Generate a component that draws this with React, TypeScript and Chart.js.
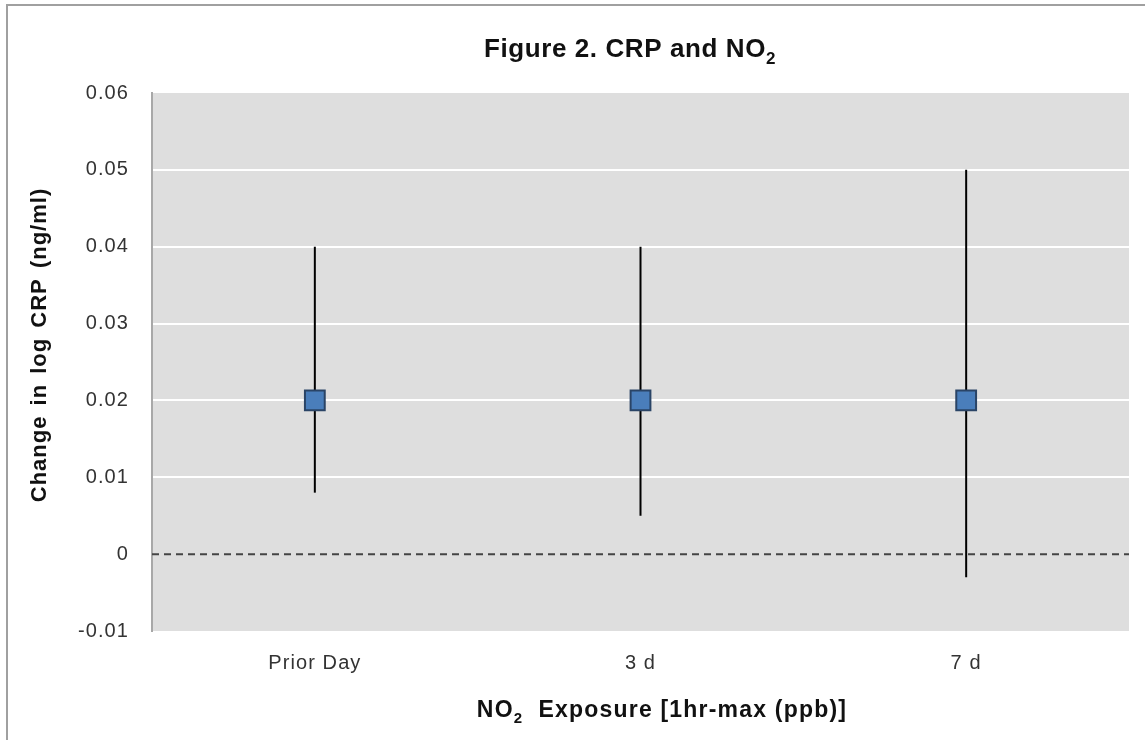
import React, { useEffect, useRef } from "react";
import { Chart, registerables } from "chart.js";

Chart.register(...registerables);

const categories = ["Prior Day", "3 d", "7 d"];
const estimates = [0.02, 0.02, 0.02];
const lowerCI = [0.008, 0.005, -0.003];
const upperCI = [0.04, 0.04, 0.05];
const yTicks = [0.06, 0.05, 0.04, 0.03, 0.02, 0.01, 0, -0.01];

const FONT = "'Liberation Sans', Arial, sans-serif";

function drawSubText(
  ctx: CanvasRenderingContext2D,
  parts: { t: string; sub?: boolean }[],
  cx: number,
  cy: number,
  size: number,
  spacing: number
) {
  ctx.letterSpacing = `${spacing}px`;
  const measure = (p: { t: string; sub?: boolean }) => {
    ctx.font = `bold ${p.sub ? Math.round(size * 0.65) : size}px ${FONT}`;
    return ctx.measureText(p.t).width;
  };
  const total = parts.reduce((s, p) => s + measure(p), 0);
  let x = cx - total / 2;
  ctx.textAlign = "left";
  ctx.textBaseline = "middle";
  for (const p of parts) {
    const w = measure(p);
    ctx.fillText(p.t, x, p.sub ? cy + size * 0.35 : cy);
    x += w;
  }
}

const decorPlugin = {
  id: "decor",
  beforeDraw(chart: any) {
    const { ctx, chartArea } = chart;
    ctx.save();
    ctx.fillStyle = "#dedede";
    ctx.fillRect(chartArea.left, chartArea.top, chartArea.right - chartArea.left, chartArea.bottom - chartArea.top);
    ctx.restore();
    ctx.letterSpacing = "1.1px";
  },
  beforeDatasetsDraw(chart: any) {
    const { ctx, chartArea, scales } = chart;
    const y0 = scales.y.getPixelForValue(0);
    ctx.save();
    ctx.strokeStyle = "#444444";
    ctx.lineWidth = 2;
    ctx.setLineDash([7, 5]);
    ctx.beginPath();
    ctx.moveTo(chartArea.left, y0);
    ctx.lineTo(chartArea.right, y0);
    ctx.stroke();
    ctx.setLineDash([]);
    ctx.strokeStyle = "#000000";
    ctx.lineWidth = 2;
    categories.forEach((c, i) => {
      const x = scales.x.getPixelForValue(i);
      ctx.beginPath();
      ctx.moveTo(x, scales.y.getPixelForValue(upperCI[i]));
      ctx.lineTo(x, scales.y.getPixelForValue(lowerCI[i]));
      ctx.stroke();
    });
    ctx.restore();
  },
  afterDraw(chart: any) {
    const { ctx } = chart;
    ctx.save();
    ctx.fillStyle = "#111111";
    drawSubText(ctx, [{ t: "Figure 2. CRP and NO" }, { t: "2", sub: true }], 630, 50, 26, 0.6);
    drawSubText(ctx, [{ t: "NO" }, { t: "2", sub: true }, { t: "  Exposure [1hr-max (ppb)]" }], 662, 711, 23, 1.2);
    ctx.translate(40, 345);
    ctx.rotate(-Math.PI / 2);
    ctx.font = `bold 22px ${FONT}`;
    ctx.letterSpacing = "1px";
    (ctx as any).wordSpacing = "3px";
    ctx.textAlign = "center";
    ctx.textBaseline = "middle";
    ctx.fillText("Change in log CRP (ng/ml)", 0, 0);
    ctx.restore();
  },
};

export default function App() {
  const ref = useRef<HTMLCanvasElement>(null);
  useEffect(() => {
    if (!ref.current) return;
    const chart = new Chart(ref.current, {
      type: "line",
      data: {
        labels: categories,
        datasets: [
          {
            data: estimates,
            showLine: false,
            pointStyle: "rect",
            pointRadius: 14,
            pointHoverRadius: 14,
            pointBackgroundColor: "#4a7ebb",
            pointBorderColor: "#2a4466",
            pointBorderWidth: 2,
          },
        ],
      },
      options: {
        animation: false,
        responsive: false,
        maintainAspectRatio: false,
        events: [],
        layout: { padding: { top: 93, right: 16, left: 0, bottom: 0 } },
        plugins: { legend: { display: false }, title: { display: false }, tooltip: { enabled: false } },
        scales: {
          x: {
            offset: true,
            grid: { display: false, drawTicks: false },
            border: { display: false },
            ticks: { color: "#333333", font: { family: FONT, size: 20 }, padding: 20 },
            afterFit: (s: any) => {
              s.height = 109;
            },
          },
          y: {
            min: -0.01,
            max: 0.06,
            afterBuildTicks: (s: any) => {
              s.ticks = yTicks.map((v) => ({ value: v }));
            },
            grid: {
              drawTicks: false,
              lineWidth: 2,
              color: (c: any) =>
                c.tick && (Math.abs(c.tick.value) < 1e-9 || c.tick.value <= -0.0099 || c.tick.value >= 0.0599)
                  ? "rgba(0,0,0,0)"
                  : "#ffffff",
            },
            border: { display: true, color: "#a8a8a8", width: 2 },
            ticks: {
              color: "#333333",
              font: { family: FONT, size: 20 },
              padding: 23,
              callback: (v: any) => String(Math.round(Number(v) * 100) / 100),
            },
            afterFit: (s: any) => {
              s.width = 152;
            },
          },
        },
      },
      plugins: [decorPlugin],
    });
    return () => chart.destroy();
  }, []);
  return (
    <div style={{ position: "absolute", left: 0, top: 0, width: 1145, height: 740, background: "#fff", overflow: "hidden" }}>
      <div style={{ position: "absolute", left: 6, top: 4, width: 1200, height: 800, border: "2px solid #a0a0a0" }} />
      <canvas ref={ref} width={1145} height={740} style={{ position: "absolute", left: 0, top: 0 }} />
    </div>
  );
}
